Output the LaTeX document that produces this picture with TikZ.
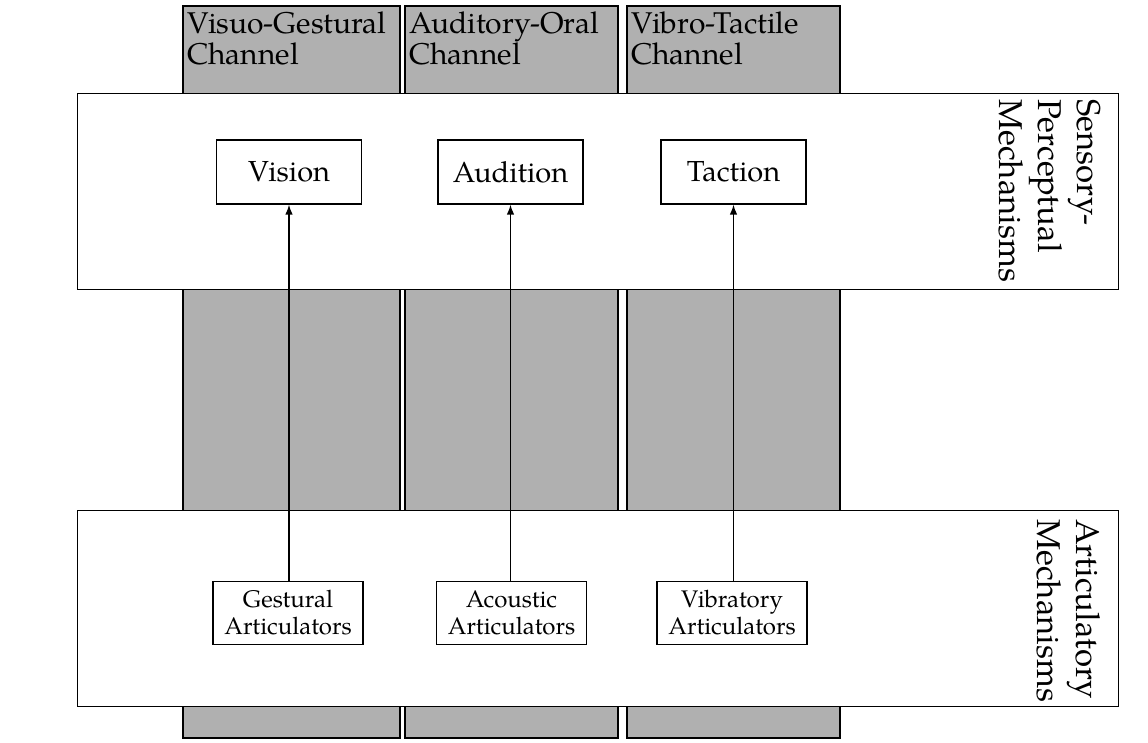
\documentclass[tikz,border=0pt]{standalone}
\usepackage{fontspec}
\setmainfont{TeX Gyre Pagella}
\usetikzlibrary{arrows.meta}
\begin{document}
\begin{tikzpicture}[x=1pt,y=1pt,
  column/.style={draw=black, line width=1.3pt, fill=black!31},
  panel/.style={draw=black, line width=1.3pt, fill=white, inner sep=0pt, anchor=north west, minimum width=1041pt, minimum height=196pt},
  sense/.style={draw=black, line width=1.2pt, fill=white, minimum width=145pt, minimum height=64pt, inner sep=0pt, font=\fontsize{29}{34}\selectfont},
  artic/.style={draw=black, line width=1.2pt, fill=white, minimum width=150pt, minimum height=63pt, inner sep=0pt, align=center, font=\fontsize{24}{27}\selectfont},
  chan/.style={anchor=north west, inner sep=0pt, align=left, font=\fontsize{30}{31}\selectfont},
  side/.style={anchor=north west, inner sep=0pt, align=left, rotate=-90, font=\fontsize{33}{39}\selectfont},
  link/.style={line width=1.3pt, -{Latex[length=10pt,width=7.5pt]}}
]
\fill[white] (0,0) rectangle (1148,-742);
\useasboundingbox (0,0) rectangle (1148,-742);

% gray channel columns
\draw[column] (183,-6) rectangle (400,-738);
\draw[column] (405,-6) rectangle (618,-738);
\draw[column] (627,-6) rectangle (840,-738);

% channel labels
\node[chan] (lab1) at (187,-12) {Visuo-Gestural\\Channel};
\node[chan] (lab2) at (409,-12) {Auditory-Oral\\Channel};
\node[chan] (lab3) at (631,-12) {Vibro-Tactile\\Channel};

% panels
\node[panel] (sensory) at (77,-93) {};
\node[panel] (artpanel) at (77,-510) {};

\node[side] (senslab) at (1101,-99) {Sensory-\\Perceptual\\Mechanisms};
\node[side] (artlab) at (1101,-519) {Articulatory\\Mechanisms};

% sensory boxes
\node[sense] (vision) at (289,-172) {Vision};
\node[sense] (audition) at (510.5,-172) {Audition};
\node[sense] (taction) at (733.5,-172) {Taction};

% articulator boxes
\node[artic] (gest) at (288,-613) {Gestural\\Articulators};
\node[artic] (acou) at (511.5,-613) {Acoustic\\Articulators};
\node[artic] (vibr) at (732,-613) {Vibratory\\Articulators};

% arrows
\draw[link] (gest.north -| vision.south) -- (vision.south);
\draw[link] (acou.north -| audition.south) -- (audition.south);
\draw[link] (vibr.north -| taction.south) -- (taction.south);
\end{tikzpicture}
\end{document}
